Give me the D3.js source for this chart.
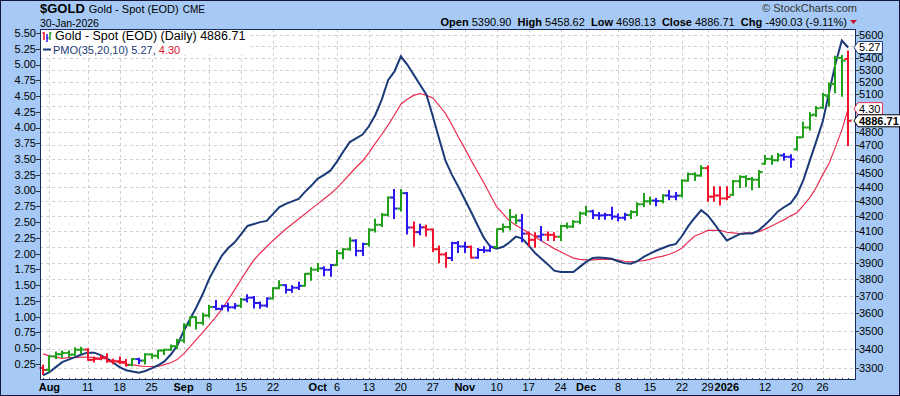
<!DOCTYPE html>
<html><head><meta charset="utf-8">
<script src="https://cdn.jsdelivr.net/npm/d3@7"></script>
<style>body{margin:0;background:#fff}svg{display:block;font-family:"Liberation Sans",Arial,sans-serif}</style>
</head><body><svg id="c" width="900" height="396"></svg>
<script>
const dates=["2025-07-31",
"2025-08-01","2025-08-04","2025-08-05","2025-08-06","2025-08-07","2025-08-08","2025-08-11","2025-08-12","2025-08-13","2025-08-14","2025-08-15","2025-08-18","2025-08-19","2025-08-20","2025-08-21","2025-08-22","2025-08-25","2025-08-26","2025-08-27","2025-08-28","2025-08-29",
"2025-09-02","2025-09-03","2025-09-04","2025-09-05","2025-09-08","2025-09-09","2025-09-10","2025-09-11","2025-09-12","2025-09-15","2025-09-16","2025-09-17","2025-09-18","2025-09-19","2025-09-22","2025-09-23","2025-09-24","2025-09-25","2025-09-26","2025-09-29","2025-09-30",
"2025-10-01","2025-10-02","2025-10-03","2025-10-06","2025-10-07","2025-10-08","2025-10-09","2025-10-10","2025-10-13","2025-10-14","2025-10-15","2025-10-16","2025-10-17","2025-10-20","2025-10-21","2025-10-22","2025-10-23","2025-10-24","2025-10-27","2025-10-28","2025-10-29","2025-10-30","2025-10-31",
"2025-11-03","2025-11-04","2025-11-05","2025-11-06","2025-11-07","2025-11-10","2025-11-11","2025-11-12","2025-11-13","2025-11-14","2025-11-17","2025-11-18","2025-11-19","2025-11-20","2025-11-21","2025-11-24","2025-11-25","2025-11-26","2025-11-28",
"2025-12-01","2025-12-02","2025-12-03","2025-12-04","2025-12-05","2025-12-08","2025-12-09","2025-12-10","2025-12-11","2025-12-12","2025-12-15","2025-12-16","2025-12-17","2025-12-18","2025-12-19","2025-12-22","2025-12-23","2025-12-24","2025-12-26","2025-12-29","2025-12-30","2025-12-31",
"2026-01-02","2026-01-05","2026-01-06","2026-01-07","2026-01-08","2026-01-09","2026-01-12","2026-01-13","2026-01-14","2026-01-15","2026-01-16","2026-01-20","2026-01-21","2026-01-22","2026-01-23","2026-01-26","2026-01-27","2026-01-28","2026-01-29","2026-01-30"];

const open=[3300,3290,3362,3373,3380,3371,3397,3398,3343,3348,
 3356,3336,3336,3332,3316,3347,3339,3372,3365,3393,
 3397,3416,3448,3533,3578,3545,3587,3636,3625,3641,
 3634,3643,3679,3690,3659,3644,3685,3746,3764,3736,
 3749,3760,3833,3858,3866,3857,3886,3960,3985,4040,
 3975,4018,4110,4143,4209,4326,4251,4356,4125,4095,
 4126,4112,3985,3952,3930,4024,4003,4000,3932,3980,
 3977,4000,4115,4128,4195,4171,4085,4045,4067,4078,
 4077,4065,4135,4131,4163,4218,4232,4206,4205,4208,
 4197,4189,4208,4228,4280,4300,4305,4302,4340,4332,
 4339,4444,4490,4480,4533,4332,4340,4320,4345,4440,
 4470,4455,4450,4565,4600,4590,4625,4615,4670,4760,
 4835,4935,4990,5080,5180,5400,5390.90];
const high=[3315,3363,3385,3390,3392,3408,3410,3402,3358,3368,
 3375,3346,3358,3345,3350,3351,3375,3376,3394,3400,
 3423,3454,3540,3578,3580,3600,3646,3674,3646,3657,
 3656,3685,3707,3697,3665,3690,3749,3791,3767,3761,
 3782,3834,3871,3895,3875,3889,3977,3990,4059,4045,
 4023,4116,4179,4218,4330,4381,4381,4360,4161,4146,
 4140,4113,4005,3965,4030,4035,4030,4005,3990,4000,
 4010,4115,4148,4245,4210,4211,4095,4090,4132,4095,
 4090,4140,4155,4170,4228,4265,4240,4225,4220,4260,
 4215,4220,4236,4290,4353,4330,4320,4345,4375,4360,
 4450,4498,4500,4550,4550,4400,4400,4400,4445,4478,
 4478,4465,4515,4625,4625,4640,4640,4630,4765,4875,
 4950,4998,5105,5190,5415,5420,5458.62];
const low=[3268,3281,3350,3357,3360,3368,3378,3341,3331,3344,
 3330,3323,3323,3311,3312,3322,3321,3351,3351,3372,
 3395,3402,3436,3527,3511,3535,3578,3620,3620,3613,
 3626,3633,3665,3630,3628,3635,3683,3743,3718,3722,
 3738,3759,3793,3847,3821,3818,3884,3925,3978,3944,
 3946,4006,4096,4131,4201,4185,4235,4083,4004,4077,
 4070,3971,3900,3872,3915,3965,3965,3930,3928,3965,
 3970,3995,4095,4110,4150,4032,4005,3998,4040,4040,
 4040,4040,4120,4125,4150,4205,4185,4180,4180,4180,
 4170,4175,4185,4205,4265,4280,4270,4290,4310,4310,
 4330,4440,4445,4475,4300,4300,4275,4310,4340,4395,
 4400,4380,4395,4560,4560,4585,4590,4540,4665,4760,
 4815,4920,4985,5000,5110,5080,4698.13];
const close=[3290,3362,3373,3380,3371,3397,3398,3343,3348,3356,
 3336,3336,3332,3316,3347,3339,3372,3365,3393,3397,
 3416,3448,3533,3578,3545,3587,3636,3625,3641,3634,
 3643,3679,3690,3659,3644,3685,3746,3764,3736,3749,
 3760,3833,3858,3866,3857,3886,3960,3985,4040,3975,
 4018,4110,4143,4209,4326,4251,4356,4125,4095,4126,
 4112,3985,3952,3930,4024,4003,4000,3932,3980,3977,
 4000,4115,4128,4195,4171,4085,4045,4067,4078,4077,
 4065,4135,4131,4163,4218,4232,4206,4205,4208,4197,
 4189,4208,4228,4280,4300,4305,4302,4340,4332,4339,
 4444,4490,4480,4533,4332,4340,4320,4330,4440,4470,
 4455,4450,4505,4600,4590,4625,4615,4596,4760,4835,
 4930,4985,5090,5180,5400,5376.74,4886.71];
// Elder impulse colouring: g = green, r = red, b = blue
const impulse=("r"+"gggggg"+"rrrrrrr"+"g"+"b"+"ggggggggggg"+"bbbb"+"g"+"bbbb"+"gg"+"bbb"+"ggg"+"bb"+"ggg"+"bb"+"gggg"+"b"+"g"+"b"+"r"+"b"+"rrrr"+"bbb"+"r"+"bbb"+"gggg"+"b"+"rr"+"b"+"rr"+"ggggg"+"bbbbbb"+"gggg"+"b"+"g"+"bb"+"gggg"+"rrrr"+"gggggggg"+"bb"+"gggggggg"+"r").split("");

const pmo=[0.07,0.12,0.20,0.28,0.32,0.36,0.40,0.43,0.43,0.39,
 0.34,0.27,0.20,0.15,0.13,0.11,0.14,0.18,0.23,0.29,
 0.40,0.54,0.77,0.96,1.15,1.36,1.60,1.79,1.97,2.09,
 2.18,2.31,2.44,2.47,2.50,2.52,2.63,2.74,2.79,2.83,
 2.87,2.98,3.08,3.19,3.25,3.32,3.46,3.62,3.77,3.83,
 3.89,4.02,4.20,4.44,4.75,4.89,5.13,5.00,4.84,4.68,
 4.52,4.18,3.82,3.47,3.25,3.06,2.86,2.66,2.45,2.25,
 2.11,2.08,2.11,2.18,2.27,2.24,2.13,2.01,1.92,1.83,
 1.73,1.71,1.71,1.71,1.79,1.87,1.93,1.94,1.93,1.92,
 1.88,1.85,1.84,1.88,1.95,2.00,2.05,2.09,2.13,2.15,
 2.28,2.44,2.57,2.69,2.61,2.48,2.34,2.21,2.26,2.31,
 2.32,2.32,2.37,2.46,2.56,2.67,2.74,2.80,2.94,3.17,
 3.48,3.78,4.09,4.55,5.01,5.38,5.27];
const signal=[0.41,0.38,0.36,0.34,0.35,0.35,0.36,0.36,0.35,0.34,
 0.33,0.30,0.27,0.25,0.24,0.22,0.21,0.21,0.21,0.24,
 0.27,0.32,0.41,0.52,0.64,0.75,0.87,0.99,1.12,1.27,
 1.43,1.59,1.75,1.90,2.01,2.11,2.21,2.30,2.39,2.47,
 2.55,2.63,2.71,2.79,2.87,2.95,3.04,3.15,3.26,3.37,
 3.47,3.60,3.75,3.89,4.04,4.20,4.37,4.45,4.51,4.54,
 4.51,4.47,4.35,4.22,4.04,3.85,3.67,3.48,3.30,3.12,
 2.93,2.74,2.63,2.52,2.45,2.39,2.33,2.27,2.20,2.14,
 2.08,2.03,1.98,1.93,1.91,1.90,1.90,1.91,1.91,1.91,
 1.90,1.88,1.87,1.88,1.89,1.91,1.94,1.96,1.99,2.03,
 2.09,2.19,2.28,2.32,2.37,2.37,2.37,2.34,2.33,2.32,
 2.33,2.33,2.35,2.39,2.44,2.49,2.54,2.60,2.65,2.77,
 2.89,3.05,3.25,3.43,3.69,3.96,4.30];

const priceTicks=[3300,3400,3500,3600,3700,3800,3900,4000,4100,4200,4300,4400,4500,4600,4700,4800,4900,5000,5100,5200,5300,5400,5500,5600];
const pmoTicks=[0.25,0.50,0.75,1.00,1.25,1.50,1.75,2.00,2.25,2.50,2.75,3.00,3.25,3.50,3.75,4.00,4.25,4.50,4.75,5.00,5.25,5.50];
const tickDates=["2025-08-01","2025-08-11","2025-08-18","2025-08-25","2025-09-02","2025-09-08","2025-09-15","2025-09-22","2025-10-01","2025-10-06","2025-10-13","2025-10-20","2025-10-27","2025-11-03","2025-11-10","2025-11-17","2025-11-24","2025-12-01","2025-12-08","2025-12-15","2025-12-22","2025-12-29","2026-01-02","2026-01-12","2026-01-20","2026-01-26"];
const tickLabels=["Aug","11","18","25","Sep","8","15","22","Oct","6","13","20","27","Nov","10","17","24","Dec","8","15","22","29","2026","12","20","26"];
const boldTicks=["Aug","Sep","Oct","Nov","Dec","2026"];

const C={g:"#22a01c",r:"#f0142d",b:"#2a18f0"};
const NAVY="#1b3a78", SIG="#ea2c50", BG="#a6caf5";

const svg=d3.select("#c");
const L=40,R=856,T=29,B=380;
svg.append("rect").attr("x",0).attr("y",0).attr("width",900).attr("height",396).attr("fill",BG);
svg.append("rect").attr("x",0.5).attr("y",0.5).attr("width",899).attr("height",395).attr("fill","none").attr("stroke","#14143a");
svg.append("rect").attr("x",L).attr("y",T).attr("width",R-L).attr("height",B-T).attr("fill","#fff");

const x=d3.scalePoint().domain(dates).range([43,848.2]);
const yP=d3.scaleLog().domain([3300,5600]).range([368,35]);
const yM=d3.scaleLinear().domain([0.25,5.5]).range([364,33]);

// gridlines
const grid=svg.append("g").attr("stroke","#cfcfcf").attr("stroke-dasharray","3,3").attr("stroke-width",1);
priceTicks.forEach(p=>{const yy=Math.round(yP(p))+0.5;grid.append("line").attr("x1",L).attr("x2",R).attr("y1",yy).attr("y2",yy);});
tickDates.forEach(d=>{const xx=Math.round(x(d))+0.5;grid.append("line").attr("x1",xx).attr("x2",xx).attr("y1",T).attr("y2",B);});

// minor day ticks along bottom
dates.forEach(d=>{const xx=Math.round(x(d))+0.5;svg.append("line").attr("x1",xx).attr("x2",xx).attr("y1",B-2).attr("y2",B).attr("stroke","#444");});

// PMO lines
const lineM=d3.line().x((d,i)=>x(dates[i])).y(d=>yM(d));
svg.append("path").datum(signal).attr("d",lineM).attr("fill","none").attr("stroke",SIG).attr("stroke-width",1.2);
svg.append("path").datum(pmo).attr("d",lineM).attr("fill","none").attr("stroke",NAVY).attr("stroke-width",2);

// OHLC bars
const bars=svg.append("g").attr("stroke-width",2);
dates.forEach((d,i)=>{
  const xx=Math.round(x(d)), col=C[impulse[i]];
  const g=bars.append("g").attr("stroke",col);
  g.append("line").attr("x1",xx).attr("x2",xx).attr("y1",yP(high[i])-0.5).attr("y2",yP(low[i])+0.5);
  g.append("line").attr("x1",xx-3.5).attr("x2",xx).attr("y1",yP(open[i])).attr("y2",yP(open[i]));
  g.append("line").attr("x1",xx).attr("x2",xx+3.5).attr("y1",yP(close[i])).attr("y2",yP(close[i]));
});

// plot border
svg.append("rect").attr("x",L+0.5).attr("y",T+0.5).attr("width",R-L-1).attr("height",B-T-1).attr("fill","none").attr("stroke","#1a2a5a");

// value tag positions
const tagYs=[yM(pmo[pmo.length-1]),yM(signal[signal.length-1]),yP(close[close.length-1])];

// left axis
const la=svg.append("g").attr("font-size",11).attr("fill","#000");
pmoTicks.forEach(v=>{const yy=yM(v);
  svg.append("line").attr("x1",36).attr("x2",L).attr("y1",Math.round(yy)+0.5).attr("y2",Math.round(yy)+0.5).attr("stroke","#333");
  la.append("text").attr("x",36).attr("y",yy).attr("dy","0.35em").attr("text-anchor","end").text(d3.format(".2f")(v));});
// right axis (labels hidden behind value tags are not drawn)
const ra=svg.append("g").attr("font-size",11).attr("fill","#000");
priceTicks.forEach(p=>{const yy=yP(p);
  svg.append("line").attr("x1",R).attr("x2",R+3).attr("y1",Math.round(yy)+0.5).attr("y2",Math.round(yy)+0.5).attr("stroke","#333");
  if(tagYs.some(t=>Math.abs(t-yy)<7)) return;
  ra.append("text").attr("x",R+3).attr("y",yy).attr("dy","0.35em").text(p);});
// bottom axis
const ba=svg.append("g").attr("font-size",11).attr("fill","#000").attr("text-anchor","middle");
tickDates.forEach((d,i)=>{ba.append("text").attr("x",x(d)).attr("y",391).attr("font-weight",boldTicks.includes(tickLabels[i])?"bold":"normal").text(tickLabels[i]);});

// value tags on right axis
function tag(yv,txt,stroke,bold){
  const g=svg.append("g");
  const t=g.append("text").attr("x",859).attr("y",yv).attr("dy","0.35em").attr("font-size",11).attr("font-weight",bold?"bold":"normal").text(txt);
  const w=t.node().getComputedTextLength();
  const r=859+w+2;
  g.insert("path","text").attr("d",`M${R-2},${yv} L${R+2},${yv-6} L${r},${yv-6} L${r},${yv+6} L${R+2},${yv+6} Z`).attr("fill","#fff").attr("stroke",stroke).attr("stroke-width",1);
}
tag(tagYs[0],"5.27",NAVY,false);
tag(tagYs[1],"4.30",SIG,false);
tag(tagYs[2],"4886.71","#000",true);

// header
const t1=svg.append("text").attr("x",40).attr("y",13).attr("font-size",13).attr("font-weight","bold").text("$GOLD");
const t1e=40+t1.node().getComputedTextLength()+4;
const t2=svg.append("text").attr("x",t1e).attr("y",13).attr("font-size",11).text("Gold - Spot (EOD)");
const t2e=t1e+t2.node().getComputedTextLength()+4;
svg.append("text").attr("x",t2e).attr("y",13).attr("font-size",10).text("CME");
svg.append("text").attr("x",40).attr("y",27).attr("font-size",10.5).text("30-Jan-2026");
svg.append("text").attr("x",857).attr("y",12).attr("font-size",11).attr("text-anchor","end").attr("fill","#333").text("\u00A9 StockCharts.com");
const hd=svg.append("text").attr("x",847).attr("y",26).attr("font-size",11).attr("text-anchor","end").attr("xml:space","preserve");
[["Open",1]," 5390.90  ",["High",1]," 5458.62  ",["Low",1]," 4698.13  ",["Close",1]," 4886.71  ",["Chg",1]," -490.03 (-9.11%)"].forEach(p=>{
  if(Array.isArray(p)) hd.append("tspan").attr("font-weight","bold").text(p[0]); else hd.append("tspan").text(p);});
svg.append("path").attr("d","M850,20 L857,20 L853.5,24 Z").attr("fill","#c8102e");

// legend
svg.append("rect").attr("x",41).attr("y",30).attr("width",206).attr("height",25).attr("fill","#fff");
const ic=svg.append("g").attr("stroke-width",1.5);
ic.append("path").attr("d","M44,32 V40 M42.5,33 H44").attr("stroke",C.r).attr("fill","none");
ic.append("path").attr("d","M47,34 V42 M47,38 H48.5").attr("stroke",C.b).attr("fill","none");
ic.append("path").attr("d","M50,32 V40 M50,33 H51.5").attr("stroke",C.g).attr("fill","none");
svg.append("text").attr("x",55).attr("y",40).attr("font-size",12.5).text("Gold - Spot (EOD) (Daily) 4886.71");
svg.append("line").attr("x1",43).attr("x2",51).attr("y1",49.5).attr("y2",49.5).attr("stroke",NAVY).attr("stroke-width",2);
const lg=svg.append("text").attr("x",53).attr("y",53.5).attr("font-size",11).attr("fill",NAVY);
lg.append("tspan").text("PMO(35,20,10) 5.27, ");
lg.append("tspan").attr("fill","#e0102a").text("4.30");
</script></body></html>
